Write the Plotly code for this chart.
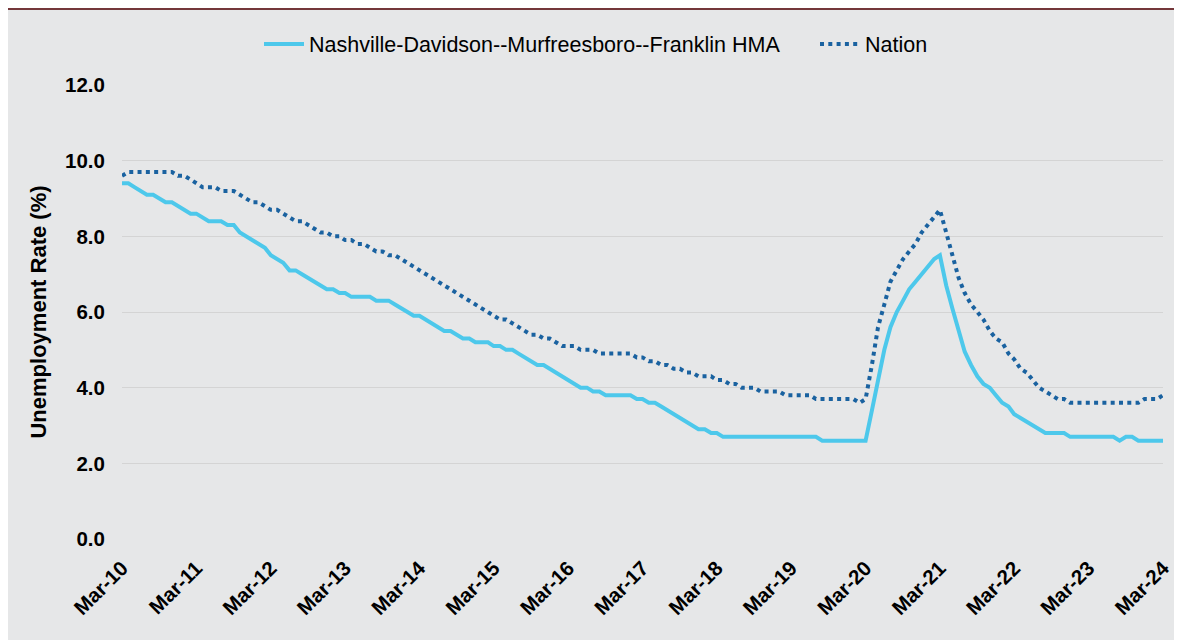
import pandas as pd
import plotly.graph_objects as go

months = pd.date_range("2010-03-01", "2024-03-01", freq="MS")

nashville = [
    9.4, 9.4, 9.3, 9.2, 9.1, 9.1, 9.0, 8.9, 8.9, 8.8,
    8.7, 8.6, 8.6, 8.5, 8.4, 8.4, 8.4, 8.3, 8.3, 8.1,
    8.0, 7.9, 7.8, 7.7, 7.5, 7.4, 7.3, 7.1, 7.1, 7.0,
    6.9, 6.8, 6.7, 6.6, 6.6, 6.5, 6.5, 6.4, 6.4, 6.4,
    6.4, 6.3, 6.3, 6.3, 6.2, 6.1, 6.0, 5.9, 5.9, 5.8,
    5.7, 5.6, 5.5, 5.5, 5.4, 5.3, 5.3, 5.2, 5.2, 5.2,
    5.1, 5.1, 5.0, 5.0, 4.9, 4.8, 4.7, 4.6, 4.6, 4.5,
    4.4, 4.3, 4.2, 4.1, 4.0, 4.0, 3.9, 3.9, 3.8, 3.8,
    3.8, 3.8, 3.8, 3.7, 3.7, 3.6, 3.6, 3.5, 3.4, 3.3,
    3.2, 3.1, 3.0, 2.9, 2.9, 2.8, 2.8, 2.7, 2.7, 2.7,
    2.7, 2.7, 2.7, 2.7, 2.7, 2.7, 2.7, 2.7, 2.7, 2.7,
    2.7, 2.7, 2.7, 2.6, 2.6, 2.6, 2.6, 2.6, 2.6, 2.6,
    2.6, 3.4, 4.2, 5.0, 5.6, 6.0, 6.3, 6.6, 6.8, 7.0,
    7.2, 7.4, 7.5, 6.7, 6.1, 5.5, 4.95, 4.6, 4.3, 4.1,
    4.0, 3.8, 3.6, 3.5, 3.3, 3.2, 3.1, 3.0, 2.9, 2.8,
    2.8, 2.8, 2.8, 2.7, 2.7, 2.7, 2.7, 2.7, 2.7, 2.7,
    2.7, 2.6, 2.7, 2.7, 2.6, 2.6, 2.6, 2.6, 2.6,
]

nation = [
    9.6, 9.7, 9.7, 9.7, 9.7, 9.7, 9.7, 9.7, 9.7, 9.6,
    9.6, 9.5, 9.4, 9.3, 9.3, 9.3, 9.2, 9.2, 9.2, 9.1,
    9.0, 8.9, 8.9, 8.8, 8.7, 8.7, 8.6, 8.5, 8.4, 8.4,
    8.3, 8.2, 8.1, 8.1, 8.0, 8.0, 7.9, 7.9, 7.8, 7.8,
    7.7, 7.6, 7.6, 7.5, 7.5, 7.4, 7.3, 7.2, 7.1, 7.0,
    6.9, 6.8, 6.7, 6.6, 6.5, 6.4, 6.3, 6.2, 6.1, 6.0,
    5.9, 5.8, 5.8, 5.7, 5.6, 5.5, 5.4, 5.4, 5.3, 5.3,
    5.2, 5.1, 5.1, 5.1, 5.0, 5.0, 5.0, 4.9, 4.9, 4.9,
    4.9, 4.9, 4.9, 4.8, 4.8, 4.7, 4.7, 4.6, 4.6, 4.5,
    4.5, 4.4, 4.4, 4.3, 4.3, 4.3, 4.2, 4.2, 4.1, 4.1,
    4.0, 4.0, 4.0, 3.9, 3.9, 3.9, 3.9, 3.8, 3.8, 3.8,
    3.8, 3.8, 3.7, 3.7, 3.7, 3.7, 3.7, 3.7, 3.7, 3.6,
    3.7, 4.6, 5.6, 6.2, 6.8, 7.1, 7.4, 7.6, 7.8, 8.1,
    8.3, 8.5, 8.7, 8.1, 7.5, 6.9, 6.5, 6.2, 6.0, 5.8,
    5.5, 5.3, 5.2, 4.9, 4.75, 4.5, 4.4, 4.2, 4.0, 3.9,
    3.8, 3.7, 3.7, 3.6, 3.6, 3.6, 3.6, 3.6, 3.6, 3.6,
    3.6, 3.6, 3.6, 3.6, 3.6, 3.7, 3.7, 3.7, 3.8,
]

series_names = ["Nashville-Davidson--Murfreesboro--Franklin HMA", "Nation"]
y_ticks = [0, 2, 4, 6, 8, 10, 12]
x_tickvals = pd.date_range("2010-03-01", "2024-03-01", freq="12MS")
x_ticktext = [d.strftime("%b-%y") for d in x_tickvals]

BG = "#e6e7e8"
FONT = "Liberation Sans, Arial, sans-serif"

fig = go.Figure()
fig.add_trace(go.Scatter(
    x=months, y=nashville, name=series_names[0], mode="lines",
    line=dict(color="#4dc8eb", width=4), legend="legend",
))
fig.add_trace(go.Scatter(
    x=months, y=nation, name=series_names[1], mode="lines",
    line=dict(color="#1a62a0", width=4, dash="4px,4.3px"), legend="legend2",
))

# figure pixel coordinates (page adds an 8px body margin)
L, R, T, B = 114, 27, 77, 109
W, H = 1182, 640
pw, ph = W - L - R, H - T - B


def px_x(p):
    return (p - L) / pw


def px_y(p):
    return (H - B - p) / ph


legend_common = dict(
    orientation="h", xanchor="left", yanchor="middle", y=px_y(36),
    font=dict(size=21.5, family=FONT, color="#000000"),
    bgcolor="rgba(0,0,0,0)", itemwidth=40,
)

fig.update_layout(
    width=W, height=H,
    margin=dict(l=L, r=R, t=T, b=B, autoexpand=False),
    paper_bgcolor=BG, plot_bgcolor=BG,
    font=dict(family=FONT, color="#000000"),
    showlegend=True,
    legend=dict(x=px_x(251), **legend_common),
    legend2=dict(x=px_x(807), **legend_common),
    xaxis=dict(
        range=[months[0], months[-1]],
        tickvals=x_tickvals, ticktext=x_ticktext, tickangle=-45,
        showgrid=False, zeroline=False, showline=False,
        ticks="outside", ticklen=8, tickcolor=BG,
        tickfont=dict(size=20.5, family=FONT, weight="bold", color="#000000"),
    ),
    yaxis=dict(
        range=[0, 12], tickvals=y_ticks, tickformat=".1f",
        showgrid=True, gridcolor="#d4d4d4", gridwidth=1,
        zeroline=False, showline=False,
        ticks="outside", ticklen=12, tickcolor=BG,
        tickfont=dict(size=20.5, family=FONT, weight="bold", color="#000000"),
        title=dict(text="Unemployment Rate (%)", standoff=12,
                   font=dict(size=22, family=FONT, weight="bold", color="#000000")),
    ),
    shapes=[
        dict(type="line", xref="paper", yref="paper",
             x0=px_x(-5), x1=px_x(W + 5), y0=px_y(0.5), y1=px_y(0.5),
             line=dict(color="#74373a", width=3), layer="above"),
    ],
)

fig.write_html("out.html")
